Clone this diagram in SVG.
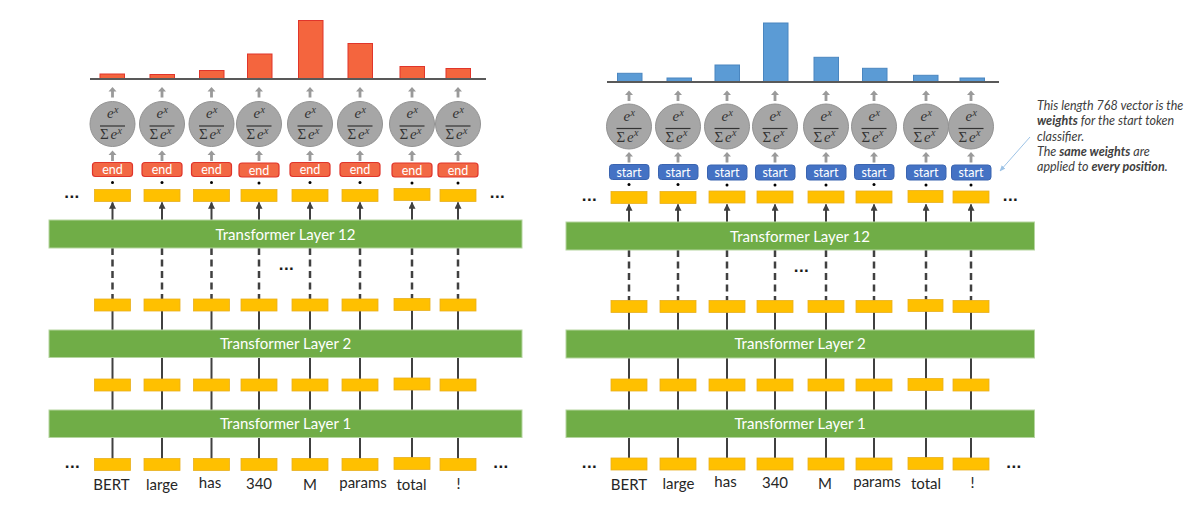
<svg xmlns="http://www.w3.org/2000/svg" xmlns:xlink="http://www.w3.org/1999/xlink" width="1188" height="509" viewBox="0 0 1188 509">
  <style>
    .bg { fill: #ffffff; }
    .layer { fill: #70AD47; stroke: #B5D5A0; stroke-width: 1; }
    .layer-text { font-family: Lato, "Liberation Sans", sans-serif; font-size: 15px; fill: #ffffff; text-anchor: middle; }
    .tok { fill: #FFC000; stroke: #E8B020; stroke-width: 0.8; }
    .word { font-family: Lato, "Liberation Sans", sans-serif; font-size: 15px; fill: #262626; text-anchor: middle; }
    .ell { font-family: "Liberation Sans", Arial, sans-serif; font-size: 17px; fill: #1a1a1a; font-weight: bold; letter-spacing: 0.5px; text-anchor: middle; }
    .end-box { fill: #F26844; stroke: #E0352B; stroke-width: 1.2; }
    .start-box { fill: #4472C4; stroke: #3A64B0; stroke-width: 1; }
    .clf-text { font-family: Lato, "Liberation Sans", sans-serif; font-size: 12.5px; fill: #ffffff; text-anchor: middle; }
    .bar-red { fill: #F4653E; stroke: #E0352B; stroke-width: 1; }
    .bar-blue { fill: #5B9BD5; stroke: #4A86C0; stroke-width: 1; }
    .axis { stroke: #595959; stroke-width: 2; }
    .solid { stroke: #404040; stroke-width: 2; fill: none; }
    .dashed { stroke: #404040; stroke-width: 2.5; stroke-dasharray: 7 4.5; fill: none; }
    .dot { fill: #000000; }
    .note { font-family: Lato, "Liberation Sans", sans-serif; font-size: 12.5px; font-style: italic; fill: #404040; }
    .pointer { stroke: #9DC3E6; stroke-width: 1; fill: none; }
    .fx { font-family: "Liberation Serif", "DejaVu Serif", serif; fill: #333333; }
  </style>
  <defs>
    <marker id="up-head" viewBox="0 0 10 10" refX="9" refY="5" markerWidth="3.5" markerHeight="3.5" orient="auto">
      <path d="M0,0 L10,5 L0,10 Z" fill="#404040"/>
    </marker>
    <marker id="blue-head" viewBox="0 0 10 10" refX="9" refY="5" markerWidth="6" markerHeight="6" orient="auto">
      <path d="M0,1 L10,5 L0,9 Z" fill="#9DC3E6"/>
    </marker>
    <!-- softmax node, centred on the origin -->
    <g id="softmax">
      <circle cx="0" cy="0" r="22.5" fill="#A6A6A6" stroke="#929292" stroke-width="1"/>
      <text class="fx" x="-5.5" y="-6" font-size="15" font-style="italic">e</text>
      <text class="fx" x="1.5" y="-11" font-size="10" font-style="italic">x</text>
      <line x1="-12.5" y1="2" x2="12.5" y2="2" stroke="#333333" stroke-width="1.2"/>
      <text class="fx" x="-12.5" y="15" font-size="15">Σ</text>
      <text class="fx" x="-2" y="15" font-size="15" font-style="italic">e</text>
      <text class="fx" x="5" y="9.5" font-size="10" font-style="italic">x</text>
    </g>
    <!-- small grey block arrow, tip at the origin -->
    <path id="grey-up" d="M0,0 L4,4.5 L1.4,4.5 L1.4,10.5 L-1.4,10.5 L-1.4,4.5 L-4,4.5 Z" fill="#9A9A9A"/>
  </defs>

  <rect class="bg" x="0" y="0" width="1188" height="509"/>

  <!-- ============ End-token panel ============ -->
  <g id="end-panel">
    <g id="end-connectors">
      <!-- layer 12 up to the output vectors -->
      <line class="solid" x1="112.5" y1="220" x2="112.5" y2="202.5" marker-end="url(#up-head)"/>
      <line class="solid" x1="162" y1="220" x2="162" y2="202.5" marker-end="url(#up-head)"/>
      <line class="solid" x1="211.5" y1="220" x2="211.5" y2="202.5" marker-end="url(#up-head)"/>
      <line class="solid" x1="259" y1="220" x2="259" y2="202.5" marker-end="url(#up-head)"/>
      <line class="solid" x1="310" y1="220" x2="310" y2="202.5" marker-end="url(#up-head)"/>
      <line class="solid" x1="360" y1="220" x2="360" y2="202.5" marker-end="url(#up-head)"/>
      <line class="solid" x1="412" y1="220" x2="412" y2="202.5" marker-end="url(#up-head)"/>
      <line class="solid" x1="458" y1="220" x2="458" y2="202.5" marker-end="url(#up-head)"/>
      <!-- skipped layers -->
      <line class="dashed" x1="112.5" y1="248" x2="112.5" y2="299"/>
      <line class="dashed" x1="162" y1="248" x2="162" y2="299"/>
      <line class="dashed" x1="211.5" y1="248" x2="211.5" y2="299"/>
      <line class="dashed" x1="259" y1="248" x2="259" y2="299"/>
      <line class="dashed" x1="310" y1="248" x2="310" y2="299"/>
      <line class="dashed" x1="360" y1="248" x2="360" y2="299"/>
      <line class="dashed" x1="412" y1="248" x2="412" y2="299"/>
      <line class="dashed" x1="458" y1="248" x2="458" y2="299"/>
      <!-- layer 2 up to the second row -->
      <line class="solid" x1="112.5" y1="330" x2="112.5" y2="305"/>
      <line class="solid" x1="162" y1="330" x2="162" y2="305"/>
      <line class="solid" x1="211.5" y1="330" x2="211.5" y2="305"/>
      <line class="solid" x1="259" y1="330" x2="259" y2="305"/>
      <line class="solid" x1="310" y1="330" x2="310" y2="305"/>
      <line class="solid" x1="360" y1="330" x2="360" y2="305"/>
      <line class="solid" x1="412" y1="330" x2="412" y2="305"/>
      <line class="solid" x1="458" y1="330" x2="458" y2="305"/>
      <!-- layer 1 up to layer 2 -->
      <line class="solid" x1="112.5" y1="410" x2="112.5" y2="357"/>
      <line class="solid" x1="162" y1="410" x2="162" y2="357"/>
      <line class="solid" x1="211.5" y1="410" x2="211.5" y2="357"/>
      <line class="solid" x1="259" y1="410" x2="259" y2="357"/>
      <line class="solid" x1="310" y1="410" x2="310" y2="357"/>
      <line class="solid" x1="360" y1="410" x2="360" y2="357"/>
      <line class="solid" x1="412" y1="410" x2="412" y2="357"/>
      <line class="solid" x1="458" y1="410" x2="458" y2="357"/>
      <!-- inputs up to layer 1 -->
      <line class="solid" x1="112.5" y1="464" x2="112.5" y2="437"/>
      <line class="solid" x1="162" y1="464" x2="162" y2="437"/>
      <line class="solid" x1="211.5" y1="464" x2="211.5" y2="437"/>
      <line class="solid" x1="259" y1="464" x2="259" y2="437"/>
      <line class="solid" x1="310" y1="464" x2="310" y2="437"/>
      <line class="solid" x1="360" y1="464" x2="360" y2="437"/>
      <line class="solid" x1="412" y1="464" x2="412" y2="437"/>
      <line class="solid" x1="458" y1="464" x2="458" y2="437"/>
      <!-- grey arrows: classifier to softmax, softmax to bar -->
      <use href="#grey-up" x="112.5" y="150.5"/>
      <use href="#grey-up" x="162" y="150.5"/>
      <use href="#grey-up" x="211.5" y="150.5"/>
      <use href="#grey-up" x="259" y="150.5"/>
      <use href="#grey-up" x="310" y="150.5"/>
      <use href="#grey-up" x="360" y="150.5"/>
      <use href="#grey-up" x="412" y="150.5"/>
      <use href="#grey-up" x="458" y="150.5"/>
      <use href="#grey-up" x="112.5" y="87"/>
      <use href="#grey-up" x="162" y="87"/>
      <use href="#grey-up" x="211.5" y="87"/>
      <use href="#grey-up" x="259" y="87"/>
      <use href="#grey-up" x="310" y="87"/>
      <use href="#grey-up" x="360" y="87"/>
      <use href="#grey-up" x="412" y="87"/>
      <use href="#grey-up" x="458" y="87"/>
    </g>

    <g id="end-probabilities">
      <rect class="bar-red" x="100" y="74" width="24.5" height="5"/>
      <rect class="bar-red" x="150" y="74.5" width="24.5" height="4.5"/>
      <rect class="bar-red" x="199.5" y="70.5" width="24.5" height="8.5"/>
      <rect class="bar-red" x="247.5" y="54" width="24.5" height="25"/>
      <rect class="bar-red" x="298.5" y="20.5" width="24.5" height="58.5"/>
      <rect class="bar-red" x="348" y="43.5" width="24.5" height="35.5"/>
      <rect class="bar-red" x="400" y="66.5" width="24.5" height="12.5"/>
      <rect class="bar-red" x="446" y="68.5" width="24.5" height="10.5"/>
      <line class="axis" x1="90" y1="79" x2="486" y2="79"/>
    </g>

    <g id="end-softmax">
      <use href="#softmax" x="112.5" y="124"/>
      <use href="#softmax" x="162" y="124"/>
      <use href="#softmax" x="211.5" y="124"/>
      <use href="#softmax" x="259" y="124"/>
      <use href="#softmax" x="310" y="124"/>
      <use href="#softmax" x="360" y="124"/>
      <use href="#softmax" x="412" y="124"/>
      <use href="#softmax" x="458" y="124"/>
    </g>

    <g id="end-classifiers">
      <rect class="end-box" x="92.5" y="162.5" width="40" height="14" rx="3"/>
      <rect class="end-box" x="142" y="162.5" width="40" height="14" rx="3"/>
      <rect class="end-box" x="191.5" y="162.5" width="40" height="14" rx="3"/>
      <rect class="end-box" x="239" y="163" width="40" height="14" rx="3"/>
      <rect class="end-box" x="290" y="162.5" width="40" height="14" rx="3"/>
      <rect class="end-box" x="340" y="162.5" width="40" height="14" rx="3"/>
      <rect class="end-box" x="392" y="163" width="40" height="14" rx="3"/>
      <rect class="end-box" x="438" y="163" width="40" height="14" rx="3"/>
      <text class="clf-text" x="112.5" y="174">end</text>
      <text class="clf-text" x="162" y="174">end</text>
      <text class="clf-text" x="211.5" y="174">end</text>
      <text class="clf-text" x="259" y="174.5">end</text>
      <text class="clf-text" x="310" y="174">end</text>
      <text class="clf-text" x="360" y="174">end</text>
      <text class="clf-text" x="412" y="174.5">end</text>
      <text class="clf-text" x="458" y="174.5">end</text>
      <circle class="dot" cx="112.5" cy="182.5" r="1.5"/>
      <circle class="dot" cx="162" cy="182.5" r="1.5"/>
      <circle class="dot" cx="211.5" cy="182.5" r="1.5"/>
      <circle class="dot" cx="259" cy="183" r="1.5"/>
      <circle class="dot" cx="310" cy="182.5" r="1.5"/>
      <circle class="dot" cx="360" cy="182.5" r="1.5"/>
      <circle class="dot" cx="412" cy="183" r="1.5"/>
      <circle class="dot" cx="458" cy="183" r="1.5"/>
    </g>

    <g id="end-layer12">
      <rect class="layer" x="49" y="220" width="473" height="28"/>
      <text class="layer-text" x="285.5" y="239.5">Transformer Layer 12</text>
    </g>
    <g id="end-layer2">
      <rect class="layer" x="49" y="330" width="473" height="27.5"/>
      <text class="layer-text" x="285.5" y="349">Transformer Layer 2</text>
    </g>
    <g id="end-layer1">
      <rect class="layer" x="49" y="410" width="473" height="27.5"/>
      <text class="layer-text" x="285.5" y="429">Transformer Layer 1</text>
    </g>

    <g id="end-outputs">
      <rect class="tok" x="94.5" y="189.5" width="36" height="12"/>
      <rect class="tok" x="144" y="189.5" width="36" height="12"/>
      <rect class="tok" x="193.5" y="189.5" width="36" height="12"/>
      <rect class="tok" x="241" y="189.5" width="36" height="12"/>
      <rect class="tok" x="292" y="189.5" width="36" height="12"/>
      <rect class="tok" x="342" y="189.5" width="36" height="12"/>
      <rect class="tok" x="394" y="188.5" width="36" height="12"/>
      <rect class="tok" x="440" y="189.5" width="36" height="12"/>
      <text class="ell" x="72" y="198">...</text>
      <text class="ell" x="497.5" y="198">...</text>
    </g>
    <g id="end-layer2-outputs">
      <rect class="tok" x="94.5" y="299" width="36" height="12"/>
      <rect class="tok" x="144" y="299" width="36" height="12"/>
      <rect class="tok" x="193.5" y="299" width="36" height="12"/>
      <rect class="tok" x="241" y="299" width="36" height="12"/>
      <rect class="tok" x="292" y="299" width="36" height="12"/>
      <rect class="tok" x="342" y="299" width="36" height="12"/>
      <rect class="tok" x="394" y="298.5" width="36" height="12"/>
      <rect class="tok" x="440" y="299" width="36" height="12"/>
      <text class="ell" x="286.5" y="269.5">...</text>
    </g>
    <g id="end-layer1-outputs">
      <rect class="tok" x="94.5" y="379" width="36" height="12"/>
      <rect class="tok" x="144" y="379" width="36" height="12"/>
      <rect class="tok" x="193.5" y="379" width="36" height="12"/>
      <rect class="tok" x="241" y="379" width="36" height="12"/>
      <rect class="tok" x="292" y="379" width="36" height="12"/>
      <rect class="tok" x="342" y="379" width="36" height="12"/>
      <rect class="tok" x="394" y="378" width="36" height="12"/>
      <rect class="tok" x="440" y="379" width="36" height="12"/>
    </g>
    <g id="end-inputs">
      <rect class="tok" x="94.5" y="458.5" width="36" height="12"/>
      <rect class="tok" x="144" y="458.5" width="36" height="12"/>
      <rect class="tok" x="193.5" y="458.5" width="36" height="12"/>
      <rect class="tok" x="241" y="458.5" width="36" height="12"/>
      <rect class="tok" x="292" y="458.5" width="36" height="12"/>
      <rect class="tok" x="342" y="458.5" width="36" height="12"/>
      <rect class="tok" x="394" y="457.5" width="36" height="12"/>
      <rect class="tok" x="440" y="458.5" width="36" height="12"/>
      <text class="ell" x="72.5" y="468">...</text>
      <text class="ell" x="501" y="468">...</text>
      <text class="word" x="111.5" y="490">BERT</text>
      <text class="word" x="162" y="489.5">large</text>
      <text class="word" x="210" y="488">has</text>
      <text class="word" x="259" y="488.5">340</text>
      <text class="word" x="310" y="489.5">M</text>
      <text class="word" x="363" y="487.5">params</text>
      <text class="word" x="411.5" y="490">total</text>
      <text class="word" x="458.5" y="489">!</text>
    </g>
  </g>

  <!-- ============ Start-token panel ============ -->
  <g id="start-panel">
    <g id="start-connectors">
      <line class="solid" x1="629" y1="222" x2="629" y2="204.5" marker-end="url(#up-head)"/>
      <line class="solid" x1="678" y1="222" x2="678" y2="204.5" marker-end="url(#up-head)"/>
      <line class="solid" x1="727" y1="222" x2="727" y2="204.5" marker-end="url(#up-head)"/>
      <line class="solid" x1="775" y1="222" x2="775" y2="204.5" marker-end="url(#up-head)"/>
      <line class="solid" x1="826" y1="222" x2="826" y2="204.5" marker-end="url(#up-head)"/>
      <line class="solid" x1="874" y1="222" x2="874" y2="204.5" marker-end="url(#up-head)"/>
      <line class="solid" x1="926" y1="222" x2="926" y2="204.5" marker-end="url(#up-head)"/>
      <line class="solid" x1="971" y1="222" x2="971" y2="204.5" marker-end="url(#up-head)"/>
      <line class="dashed" x1="629" y1="250" x2="629" y2="300.5"/>
      <line class="dashed" x1="678" y1="250" x2="678" y2="300.5"/>
      <line class="dashed" x1="727" y1="250" x2="727" y2="300.5"/>
      <line class="dashed" x1="775" y1="250" x2="775" y2="300.5"/>
      <line class="dashed" x1="826" y1="250" x2="826" y2="300.5"/>
      <line class="dashed" x1="874" y1="250" x2="874" y2="300.5"/>
      <line class="dashed" x1="926" y1="250" x2="926" y2="300.5"/>
      <line class="dashed" x1="971" y1="250" x2="971" y2="300.5"/>
      <line class="solid" x1="629" y1="330" x2="629" y2="306"/>
      <line class="solid" x1="678" y1="330" x2="678" y2="306"/>
      <line class="solid" x1="727" y1="330" x2="727" y2="306"/>
      <line class="solid" x1="775" y1="330" x2="775" y2="306"/>
      <line class="solid" x1="826" y1="330" x2="826" y2="306"/>
      <line class="solid" x1="874" y1="330" x2="874" y2="306"/>
      <line class="solid" x1="926" y1="330" x2="926" y2="306"/>
      <line class="solid" x1="971" y1="330" x2="971" y2="306"/>
      <line class="solid" x1="629" y1="410" x2="629" y2="358"/>
      <line class="solid" x1="678" y1="410" x2="678" y2="358"/>
      <line class="solid" x1="727" y1="410" x2="727" y2="358"/>
      <line class="solid" x1="775" y1="410" x2="775" y2="358"/>
      <line class="solid" x1="826" y1="410" x2="826" y2="358"/>
      <line class="solid" x1="874" y1="410" x2="874" y2="358"/>
      <line class="solid" x1="926" y1="410" x2="926" y2="358"/>
      <line class="solid" x1="971" y1="410" x2="971" y2="358"/>
      <line class="solid" x1="629" y1="464" x2="629" y2="437"/>
      <line class="solid" x1="678" y1="464" x2="678" y2="437"/>
      <line class="solid" x1="727" y1="464" x2="727" y2="437"/>
      <line class="solid" x1="775" y1="464" x2="775" y2="437"/>
      <line class="solid" x1="826" y1="464" x2="826" y2="437"/>
      <line class="solid" x1="874" y1="464" x2="874" y2="437"/>
      <line class="solid" x1="926" y1="464" x2="926" y2="437"/>
      <line class="solid" x1="971" y1="464" x2="971" y2="437"/>
      <use href="#grey-up" x="629" y="152"/>
      <use href="#grey-up" x="678" y="152"/>
      <use href="#grey-up" x="727" y="152"/>
      <use href="#grey-up" x="775" y="152"/>
      <use href="#grey-up" x="826" y="152"/>
      <use href="#grey-up" x="874" y="152"/>
      <use href="#grey-up" x="926" y="152"/>
      <use href="#grey-up" x="971" y="152"/>
      <use href="#grey-up" x="629" y="90.5"/>
      <use href="#grey-up" x="678" y="90.5"/>
      <use href="#grey-up" x="727" y="90.5"/>
      <use href="#grey-up" x="775" y="90.5"/>
      <use href="#grey-up" x="826" y="90.5"/>
      <use href="#grey-up" x="874" y="90.5"/>
      <use href="#grey-up" x="926" y="90.5"/>
      <use href="#grey-up" x="971" y="90.5"/>
      <!-- pointer from the note to the last start classifier -->
      <line class="pointer" x1="1030" y1="137" x2="1000" y2="171" marker-end="url(#blue-head)"/>
    </g>

    <g id="start-probabilities">
      <rect class="bar-blue" x="617.5" y="73.3" width="24.5" height="8.7"/>
      <rect class="bar-blue" x="667" y="78" width="24.5" height="4"/>
      <rect class="bar-blue" x="715" y="65" width="24.5" height="17"/>
      <rect class="bar-blue" x="763.5" y="23" width="24.5" height="59"/>
      <rect class="bar-blue" x="814" y="57.3" width="24.5" height="24.7"/>
      <rect class="bar-blue" x="862.5" y="68.3" width="24.5" height="13.7"/>
      <rect class="bar-blue" x="913.5" y="75.3" width="24.5" height="6.7"/>
      <rect class="bar-blue" x="960" y="78" width="24.5" height="4"/>
      <line class="axis" x1="607" y1="82" x2="999" y2="82"/>
    </g>

    <g id="start-softmax">
      <use href="#softmax" x="629" y="126.5"/>
      <use href="#softmax" x="678" y="126.5"/>
      <use href="#softmax" x="727" y="126.5"/>
      <use href="#softmax" x="775" y="126.5"/>
      <use href="#softmax" x="826" y="126.5"/>
      <use href="#softmax" x="874" y="126.5"/>
      <use href="#softmax" x="926" y="126.5"/>
      <use href="#softmax" x="971" y="126.5"/>
    </g>

    <g id="start-classifiers">
      <rect class="start-box" x="609.5" y="164.5" width="39.5" height="15" rx="3"/>
      <rect class="start-box" x="658.5" y="164.5" width="39.5" height="15" rx="3"/>
      <rect class="start-box" x="707.5" y="165" width="39.5" height="15" rx="3"/>
      <rect class="start-box" x="755.5" y="165" width="39.5" height="15" rx="3"/>
      <rect class="start-box" x="806.5" y="165" width="39.5" height="15" rx="3"/>
      <rect class="start-box" x="854.5" y="164.5" width="39.5" height="15" rx="3"/>
      <rect class="start-box" x="906.5" y="165" width="39.5" height="15" rx="3"/>
      <rect class="start-box" x="951.5" y="165" width="39.5" height="15" rx="3"/>
      <text class="clf-text" x="629" y="176.5">start</text>
      <text class="clf-text" x="678" y="176.5">start</text>
      <text class="clf-text" x="727" y="177">start</text>
      <text class="clf-text" x="775" y="177">start</text>
      <text class="clf-text" x="826" y="177">start</text>
      <text class="clf-text" x="874" y="176.5">start</text>
      <text class="clf-text" x="926" y="177">start</text>
      <text class="clf-text" x="971" y="177">start</text>
      <circle class="dot" cx="629" cy="184.5" r="1.5"/>
      <circle class="dot" cx="678" cy="184.5" r="1.5"/>
      <circle class="dot" cx="727" cy="185" r="1.5"/>
      <circle class="dot" cx="775" cy="185" r="1.5"/>
      <circle class="dot" cx="826" cy="185" r="1.5"/>
      <circle class="dot" cx="874" cy="184.5" r="1.5"/>
      <circle class="dot" cx="926" cy="185" r="1.5"/>
      <circle class="dot" cx="971" cy="185" r="1.5"/>
    </g>

    <g id="start-layer12">
      <rect class="layer" x="566" y="222" width="468.5" height="28"/>
      <text class="layer-text" x="800" y="241.5">Transformer Layer 12</text>
    </g>
    <g id="start-layer2">
      <rect class="layer" x="566" y="330" width="468.5" height="28"/>
      <text class="layer-text" x="800" y="349">Transformer Layer 2</text>
    </g>
    <g id="start-layer1">
      <rect class="layer" x="566" y="410" width="468.5" height="27.5"/>
      <text class="layer-text" x="800" y="429">Transformer Layer 1</text>
    </g>

    <g id="start-outputs">
      <rect class="tok" x="611" y="191.5" width="36" height="12"/>
      <rect class="tok" x="660" y="191.5" width="36" height="12"/>
      <rect class="tok" x="709" y="191" width="36" height="12"/>
      <rect class="tok" x="757" y="191" width="36" height="12"/>
      <rect class="tok" x="808" y="191" width="36" height="12"/>
      <rect class="tok" x="856" y="191" width="36" height="12"/>
      <rect class="tok" x="908" y="190.5" width="35" height="12"/>
      <rect class="tok" x="953" y="191" width="36" height="12"/>
      <text class="ell" x="589.5" y="201">...</text>
      <text class="ell" x="1010.5" y="201">...</text>
    </g>
    <g id="start-layer2-outputs">
      <rect class="tok" x="611" y="300.5" width="36" height="12"/>
      <rect class="tok" x="660" y="300.5" width="36" height="12"/>
      <rect class="tok" x="709" y="300.5" width="36" height="12"/>
      <rect class="tok" x="757" y="300.5" width="36" height="12"/>
      <rect class="tok" x="808" y="300.5" width="36" height="12"/>
      <rect class="tok" x="856" y="300.5" width="36" height="12"/>
      <rect class="tok" x="908" y="299.5" width="35" height="12"/>
      <rect class="tok" x="953" y="300.5" width="36" height="12"/>
      <text class="ell" x="801.5" y="271.5">...</text>
    </g>
    <g id="start-layer1-outputs">
      <rect class="tok" x="611" y="379" width="36" height="12"/>
      <rect class="tok" x="660" y="379" width="36" height="12"/>
      <rect class="tok" x="709" y="379" width="36" height="12"/>
      <rect class="tok" x="757" y="379" width="36" height="12"/>
      <rect class="tok" x="808" y="379" width="36" height="12"/>
      <rect class="tok" x="856" y="379" width="36" height="12"/>
      <rect class="tok" x="908" y="378.5" width="35" height="12"/>
      <rect class="tok" x="953" y="379" width="36" height="12"/>
    </g>
    <g id="start-inputs">
      <rect class="tok" x="611" y="458" width="36" height="12"/>
      <rect class="tok" x="660" y="458" width="36" height="12"/>
      <rect class="tok" x="709" y="458" width="36" height="12"/>
      <rect class="tok" x="757" y="458" width="36" height="12"/>
      <rect class="tok" x="808" y="458" width="36" height="12"/>
      <rect class="tok" x="856" y="458" width="36" height="12"/>
      <rect class="tok" x="908" y="457.5" width="35" height="12"/>
      <rect class="tok" x="953" y="458" width="36" height="12"/>
      <text class="ell" x="589.5" y="468">...</text>
      <text class="ell" x="1014" y="468">...</text>
      <text class="word" x="629" y="489.5">BERT</text>
      <text class="word" x="678.5" y="488.5">large</text>
      <text class="word" x="725.5" y="487">has</text>
      <text class="word" x="775" y="487.5">340</text>
      <text class="word" x="825" y="488.5">M</text>
      <text class="word" x="877" y="487">params</text>
      <text class="word" x="926" y="489">total</text>
      <text class="word" x="972.5" y="488">!</text>
    </g>

    <g id="start-note">
      <text class="note" x="1037" y="110">This length 768 vector is the</text>
      <text class="note" x="1037" y="125.3"><tspan font-weight="bold">weights</tspan> for the start token</text>
      <text class="note" x="1037" y="140.6">classifier.</text>
      <text class="note" x="1037" y="155.9">The <tspan font-weight="bold">same weights</tspan> are</text>
      <text class="note" x="1037" y="171.2">applied to <tspan font-weight="bold">every position</tspan>.</text>
    </g>
  </g>
</svg>
